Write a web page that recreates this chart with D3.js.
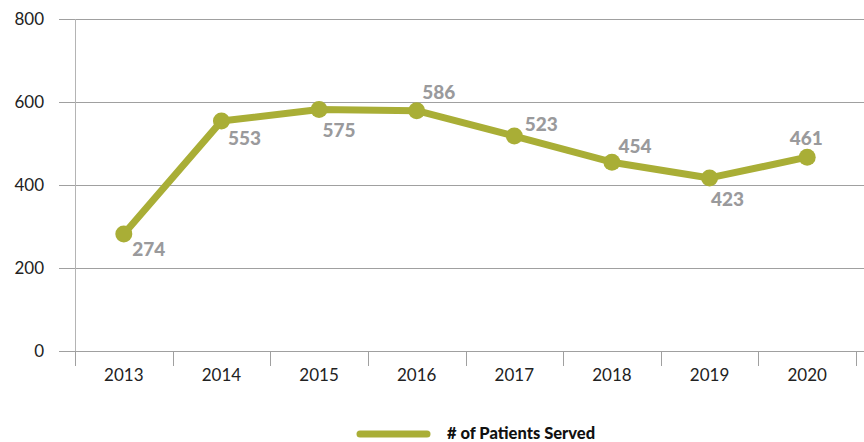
<!DOCTYPE html>
<html>
<head>
<meta charset="utf-8">
<script src="https://d3js.org/d3.v7.min.js"></script>
<style>
  body { margin: 0; background: #fff; }
  .tick text { font-family: Lato, sans-serif; font-size: 17px; fill: #222; }
  .valueText { font-family: Lato, sans-serif; font-weight: 900; font-size: 19px; fill: #9a9a9c; }
  .legendText { font-family: Lato, sans-serif; font-weight: 900; font-size: 16.5px; fill: #111; }
</style>
</head>
<body>
<div id="chart"></div>
<script>
  // data (plotted points as drawn, and the printed labels)
  var years = ["2013", "2014", "2015", "2016", "2017", "2018", "2019", "2020"];
  var patients = [282, 554, 582, 579, 518, 455, 417, 467];
  var patientLabels = ["274", "553", "575", "586", "523", "454", "423", "461"];
  var yTicks = [0, 200, 400, 600, 800];

  // label offsets from each point
  var labelOffsets = [[25, 15], [23, 17], [20, 21], [22, -19], [27, -12], [23, -16], [18, 21], [-1, -19]];

  var svgWidth = 864;
  var svgHeight = 442;
  var lineColor = "#a9ae36";

  var svg = d3.select("#chart")
    .append("svg")
    .attr("width", svgWidth)
    .attr("height", svgHeight);

  // scales
  var x = d3.scaleBand()
    .domain(years)
    .range([75, 856]);

  var y = d3.scaleLinear()
    .domain([0, 800])
    .range([351, 19]);

  // gridlines
  svg.append("g")
    .selectAll("line")
    .data(yTicks)
    .enter()
    .append("line")
    .attr("x1", 59)
    .attr("x2", svgWidth)
    .attr("y1", d => y(d) + 0.5)
    .attr("y2", d => y(d) + 0.5)
    .attr("stroke", "#a0a0a0")
    .attr("stroke-width", 1);

  // y axis line
  svg.append("line")
    .attr("x1", 75.5).attr("x2", 75.5)
    .attr("y1", y(800)).attr("y2", y(0))
    .attr("stroke", "#b4b4b4");

  // y labels
  var yAxis = d3.axisLeft(y).tickValues(yTicks).tickSize(0).tickPadding(0);
  var yg = svg.append("g")
    .attr("transform", "translate(44,0)")
    .call(yAxis);
  yg.select(".domain").remove();
  yg.selectAll("text").attr("dy", "0.32em");

  // x axis
  var xAxis = d3.axisBottom(x).tickSize(0).tickPadding(18);
  var xg = svg.append("g")
    .attr("transform", `translate(0, ${y(0)})`)
    .call(xAxis);
  xg.select(".domain").remove();

  // x tick separators
  svg.append("g")
    .selectAll("line")
    .data(years.concat(["end"]))
    .enter()
    .append("line")
    .attr("x1", (d, i) => Math.round(x.range()[0] + i * x.bandwidth()) + 0.5)
    .attr("x2", (d, i) => Math.round(x.range()[0] + i * x.bandwidth()) + 0.5)
    .attr("y1", y(0))
    .attr("y2", y(0) + 15)
    .attr("stroke", "#a0a0a0");

  var cx = d => x(d) + x.bandwidth() / 2;

  // line
  var line = d3.line()
    .x((d, i) => cx(years[i]))
    .y(d => y(d));

  svg.append("path")
    .datum(patients)
    .attr("d", line)
    .attr("fill", "none")
    .attr("stroke", lineColor)
    .attr("stroke-width", 7)
    .attr("stroke-linejoin", "round");

  // points
  svg.append("g")
    .selectAll("circle")
    .data(patients)
    .enter()
    .append("circle")
    .attr("cx", (d, i) => cx(years[i]))
    .attr("cy", d => y(d))
    .attr("r", 8.5)
    .attr("fill", lineColor);

  // value labels
  svg.append("g")
    .selectAll("text")
    .data(patients)
    .enter()
    .append("text")
    .attr("class", "valueText")
    .attr("text-anchor", "middle")
    .attr("x", (d, i) => cx(years[i]) + labelOffsets[i][0])
    .attr("y", (d, i) => y(d) + labelOffsets[i][1])
    .attr("dy", "0.36em")
    .text((d, i) => patientLabels[i]);

  // legend
  svg.append("line")
    .attr("x1", 360).attr("x2", 427)
    .attr("y1", 434).attr("y2", 434)
    .attr("stroke", lineColor)
    .attr("stroke-width", 7)
    .attr("stroke-linecap", "round");

  svg.append("text")
    .attr("class", "legendText")
    .attr("x", 447)
    .attr("y", 433)
    .attr("dy", "0.35em")
    .text("# of Patients Served");
</script>
</body>
</html>
